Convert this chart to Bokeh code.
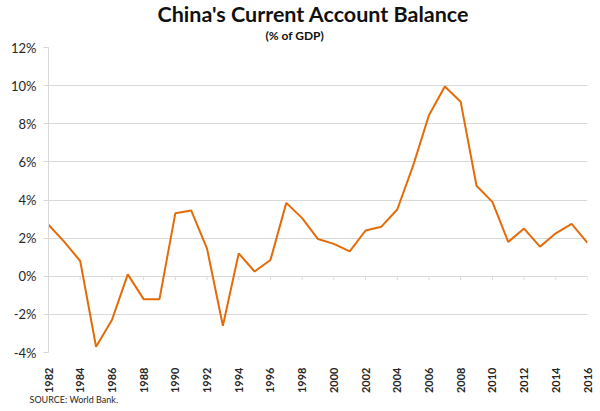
import math
from bokeh.plotting import figure
from bokeh.models import (ColumnDataSource, FixedTicker, PrintfTickFormatter, Title,
                          Range1d)
from bokeh.embed import file_html
from bokeh.resources import INLINE

# ---- data ----
years = list(range(1982, 2017))
balance = [2.7, 1.8, 0.8, -3.7, -2.3, 0.1, -1.2, -1.2, 3.3, 3.45,
           1.45, -2.6, 1.2, 0.25, 0.85, 3.85, 3.05, 1.95, 1.7, 1.3,
           2.4, 2.6, 3.5, 5.8, 8.45, 9.95, 9.15, 4.75, 3.9, 1.8,
           2.5, 1.55, 2.25, 2.75, 1.75]
tick_years = years[::2]
y_ticks = [-4, -2, 0, 2, 4, 6, 8, 10, 12]
title_text = "China's Current Account Balance"
subtitle_text = "(% of GDP)"
source_text = "SOURCE: World Bank."

FONT = "Lato"
LINE_COLOR = "#E36C09"
GRID = "#d9d9d9"
TEXT = "#262626"

src = ColumnDataSource(dict(year=years, val=balance))

p = figure(width=600, height=411, output_backend="svg", toolbar_location=None,
           x_range=Range1d(1982, 2016), y_range=Range1d(-4, 12),
           min_border_left=48, min_border_right=13, min_border_top=47,
           min_border_bottom=59, title=None)
p.outline_line_color = None
p.background_fill_color = "white"
p.border_fill_color = "white"

# grid
p.xgrid.grid_line_color = None
p.ygrid.ticker = FixedTicker(ticks=y_ticks)
p.ygrid.grid_line_color = GRID
p.ygrid.grid_line_width = 1

# y axis
p.yaxis.ticker = FixedTicker(ticks=y_ticks)
p.yaxis.formatter = PrintfTickFormatter(format="%d%%")
p.yaxis.axis_line_color = GRID
p.yaxis.major_tick_line_color = GRID
p.yaxis.major_tick_out = 5
p.yaxis.major_tick_in = 0
p.yaxis.minor_tick_line_color = None
p.yaxis.major_label_standoff = 7
p.yaxis.major_label_text_font = FONT
p.yaxis.major_label_text_font_size = "13px"
p.yaxis.major_label_text_color = TEXT

# x axis (labels at bottom, vertical)
p.xaxis.ticker = FixedTicker(ticks=tick_years)
p.xaxis.major_label_overrides = {y: str(y) for y in tick_years}
p.xaxis.axis_line_color = None
p.xaxis.major_tick_line_color = None
p.xaxis.minor_tick_line_color = None
p.xaxis.major_label_orientation = math.pi / 2
p.xaxis.major_label_standoff = 9
p.xaxis.major_label_text_font = FONT
p.xaxis.major_label_text_font_size = "11px"
p.xaxis.major_label_text_font_style = "bold"
p.xaxis.major_label_text_color = TEXT

# tick marks on the zero line
p.segment(x0=tick_years[1:], x1=tick_years[1:], y0=[0] * len(tick_years[1:]),
          y1=[-0.2] * len(tick_years[1:]), line_color=GRID, line_width=1)

# series line
p.line("year", "val", source=src, line_color=LINE_COLOR, line_width=2)

# texts
p.add_layout(Title(text=subtitle_text, align="left", offset=217,
                   text_font=FONT, text_font_style="bold",
                   text_font_size="12px", text_color="#111111", standoff=9), "above")
p.add_layout(Title(text=title_text, align="left", offset=109,
                   text_font=FONT, text_font_style="bold",
                   text_font_size="21.5px", text_color="#111111", standoff=-10), "above")
p.add_layout(Title(text=source_text, align="left", offset=-19,
                   text_font=FONT, text_font_style="normal",
                   text_font_size="9px", text_color=TEXT, standoff=-9), "below")

open("out.html", "w").write(file_html(p, INLINE))
